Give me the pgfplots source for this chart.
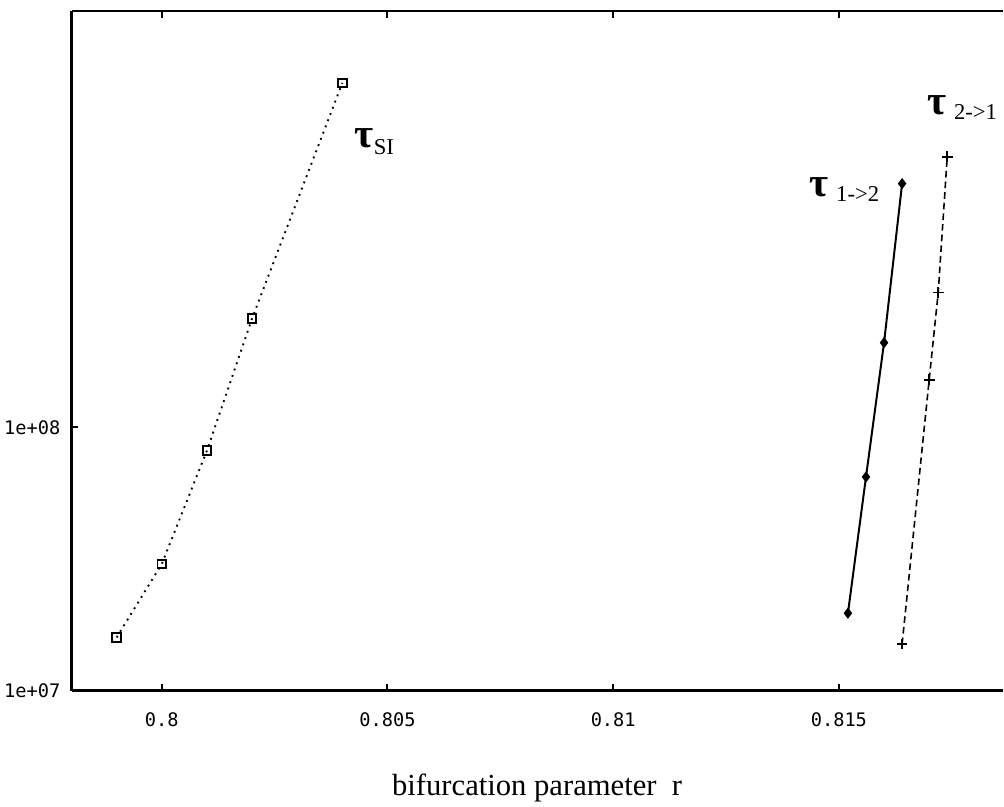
\documentclass[border=0pt]{standalone}
\usepackage{pgfplots}
\pgfplotsset{compat=1.18}
\usepackage{fontspec}
\setmainfont{Liberation Serif}
\newfontfamily\tickfont{DejaVu Sans Mono}
\begin{document}
\begin{tikzpicture}
\begin{axis}[
  scale only axis,
  width=699.3pt, height=510.5pt,
  at={(0,0)}, anchor=south west,
  xmin=0.798, xmax=0.818628,
  ymode=log, ymin=1e7, ymax=3.81e9,
  axis x line*=box, axis y line*=left,
  axis line style={line width=2pt, -},
  xtick={0.8,0.805,0.81,0.815},
  xticklabels={0.8,0.805,0.81,0.815},
  ytick={1e7,1e8}, yticklabels={1e+07,1e+08},
  yminorticks=false,
  tick style={line width=1.5pt, black},
  major tick length=5pt,
  tick align=inside,
  xticklabel style={font=\tickfont\fontsize{14}{14}\selectfont, anchor=base, inner sep=0pt, yshift=-27pt},
  yticklabel style={font=\tickfont\fontsize{14}{14}\selectfont, anchor=east, inner sep=0pt, xshift=-8.2pt},
  xlabel={bifurcation parameter\ \ r},
  xlabel style={font=\fontsize{23}{23}\selectfont, at={(axis description cs:0.5,0)}, anchor=base, yshift=-79pt},
  clip=false,
]
\addplot[black, line width=1.4pt, dash pattern=on 1.4pt off 3.6pt, mark=square, mark size=3.2pt, mark options={solid, line width=1.4pt}]
  coordinates {(0.799,1.594e7) (0.800,3.03e7) (0.801,8.16e7) (0.802,2.59e8) (0.804,2.03e9)};
\addplot[black, line width=1.5pt, mark=diamond*, mark size=3pt, mark options={solid}]
  coordinates {(0.8152,1.97e7) (0.8156,6.48e7) (0.8160,2.096e8) (0.8164,8.42e8)};
\addplot[black, line width=1.2pt, dash pattern=on 5pt off 3pt, mark=+, mark size=4pt, mark options={solid, line width=1.4pt}]
  coordinates {(0.8164,1.503e7) (0.8170,1.517e8) (0.8172,3.25e8) (0.8174,1.066e9)};
\node[anchor=base west, inner sep=0pt] at (axis cs:0.80427,1.153e9)
  {{\fontsize{31}{31}\selectfont\bfseries τ}\raisebox{-5pt}{\fontsize{17}{17}\selectfont SI}};
\node[anchor=base west, inner sep=0pt] at (axis cs:0.814336,7.52e8)
  {{\fontsize{31}{31}\selectfont\bfseries τ}\hspace{6pt}\raisebox{-3.75pt}{\fontsize{17}{17}\selectfont 1->2}};
\node[anchor=base west, inner sep=0pt] at (axis cs:0.816947,1.538e9)
  {{\fontsize{31}{31}\selectfont\bfseries τ}\hspace{6pt}\raisebox{-3.75pt}{\fontsize{17}{17}\selectfont 2->1}};
\end{axis}
\useasboundingbox (-53.7pt,-85pt) rectangle (699.3pt,518.75pt);
\end{tikzpicture}
\end{document}
